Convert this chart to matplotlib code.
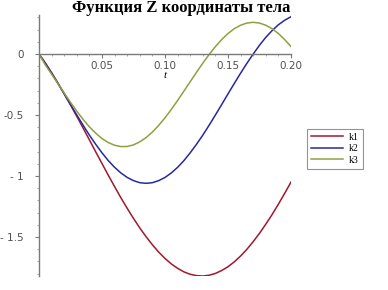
import matplotlib
matplotlib.use("Agg")
import matplotlib.pyplot as plt
from matplotlib.ticker import FixedLocator, MultipleLocator

t = [0.000, 0.005, 0.010, 0.015, 0.020, 0.025, 0.030, 0.035, 0.040, 0.045,
     0.050, 0.055, 0.060, 0.065, 0.070, 0.075, 0.080, 0.085, 0.090, 0.095,
     0.100, 0.105, 0.110, 0.115, 0.120, 0.125, 0.130, 0.135, 0.140, 0.145,
     0.150, 0.155, 0.160, 0.165, 0.170, 0.175, 0.180, 0.185, 0.190, 0.195, 0.200]
k1 = [0.0, -0.073, -0.153, -0.237, -0.326, -0.417, -0.511, -0.607, -0.704, -0.802,
      -0.898, -0.994, -1.087, -1.179, -1.265, -1.348, -1.426, -1.498, -1.564, -1.624,
      -1.676, -1.721, -1.757, -1.786, -1.806, -1.817, -1.820, -1.814, -1.799, -1.775,
      -1.744, -1.704, -1.656, -1.601, -1.538, -1.470, -1.395, -1.316, -1.231, -1.142, -1.050]
k2 = [0.0, -0.076, -0.157, -0.241, -0.327, -0.414, -0.500, -0.584, -0.665, -0.740,
      -0.810, -0.874, -0.929, -0.975, -1.012, -1.038, -1.055, -1.060, -1.055, -1.038,
      -1.012, -0.975, -0.929, -0.874, -0.810, -0.740, -0.665, -0.584, -0.500, -0.414,
      -0.327, -0.241, -0.157, -0.076, 0.0, 0.072, 0.137, 0.192, 0.240, 0.277, 0.306]
k3 = [0.0, -0.089, -0.165, -0.242, -0.320, -0.396, -0.469, -0.536, -0.597, -0.649,
      -0.693, -0.726, -0.748, -0.759, -0.758, -0.745, -0.720, -0.685, -0.640, -0.585,
      -0.523, -0.454, -0.381, -0.304, -0.227, -0.150, -0.075, -0.004, 0.061, 0.119,
      0.168, 0.208, 0.236, 0.254, 0.260, 0.254, 0.236, 0.208, 0.168, 0.118, 0.061]

series_names = ["k1", "k2", "k3"]
colors = ["#a01830", "#2828a0", "#8fa040"]

xticks = [0.05, 0.10, 0.15, 0.20]
xticklabels = ["0.05", "0.10", "0.15", "0.20"]
yticks = [0, -0.5, -1, -1.5]
yticklabels = ["0", "-0.5", "- 1", "- 1.5"]

fig = plt.figure(figsize=(3.88, 2.90), dpi=100)
ax = fig.add_axes([39/388, 1-276/290, (291-39)/388, (276-15)/290])

for y, c, n in zip([k1, k2, k3], colors, series_names):
    ax.plot(t, y, color=c, lw=1.1, label=n)

ax.set_xlim(0, 0.2)
ax.set_ylim(-1.82, 0.32)

for s in ["top", "right"]:
    ax.spines[s].set_visible(False)
ax.spines["bottom"].set_position(("data", 0))
ax.spines["left"].set_position(("data", 0))
for s in ["bottom", "left"]:
    ax.spines[s].set_color("#7a7a7a")
    ax.spines[s].set_linewidth(1.0)

ax.xaxis.set_major_locator(FixedLocator(xticks))
ax.set_xticklabels(xticklabels)
ax.yaxis.set_major_locator(FixedLocator(yticks))
ax.set_yticklabels(yticklabels)
ax.yaxis.set_minor_locator(MultipleLocator(0.1))
ax.xaxis.set_minor_locator(MultipleLocator(0.01))
ax.tick_params(axis="both", which="major", length=3, width=0.8, color="#7a7a7a",
               labelsize=7.5, labelcolor="#505050")
ax.tick_params(axis="both", which="minor", length=1.5, width=0.6, color="#9a9a9a")
ax.tick_params(axis="x", pad=2)
ax.tick_params(axis="y", pad=8)
for lbl in ax.get_xticklabels() + ax.get_yticklabels():
    lbl.set_family("DejaVu Sans")

fig.text(0.467, 0.972, "Функция Z координаты тела", ha="center", va="center",
         family="Liberation Serif", fontweight="bold", fontsize=12)
fig.text(165/388, 1-75/290, "t", ha="center", va="center",
         family="Liberation Serif", style="italic", fontsize=8)

leg = ax.legend(loc="upper left", bbox_to_anchor=(307/388, 1-129/290),
                bbox_transform=fig.transFigure, fontsize=7, frameon=True,
                fancybox=False, edgecolor="#7a7a7a", handlelength=3.3,
                borderpad=0.4, labelspacing=0.25, handletextpad=0.6,
                borderaxespad=0)
leg.get_frame().set_linewidth(0.8)
for txt in leg.get_texts():
    txt.set_family("Liberation Serif")

fig.savefig("out.png", dpi=100)
